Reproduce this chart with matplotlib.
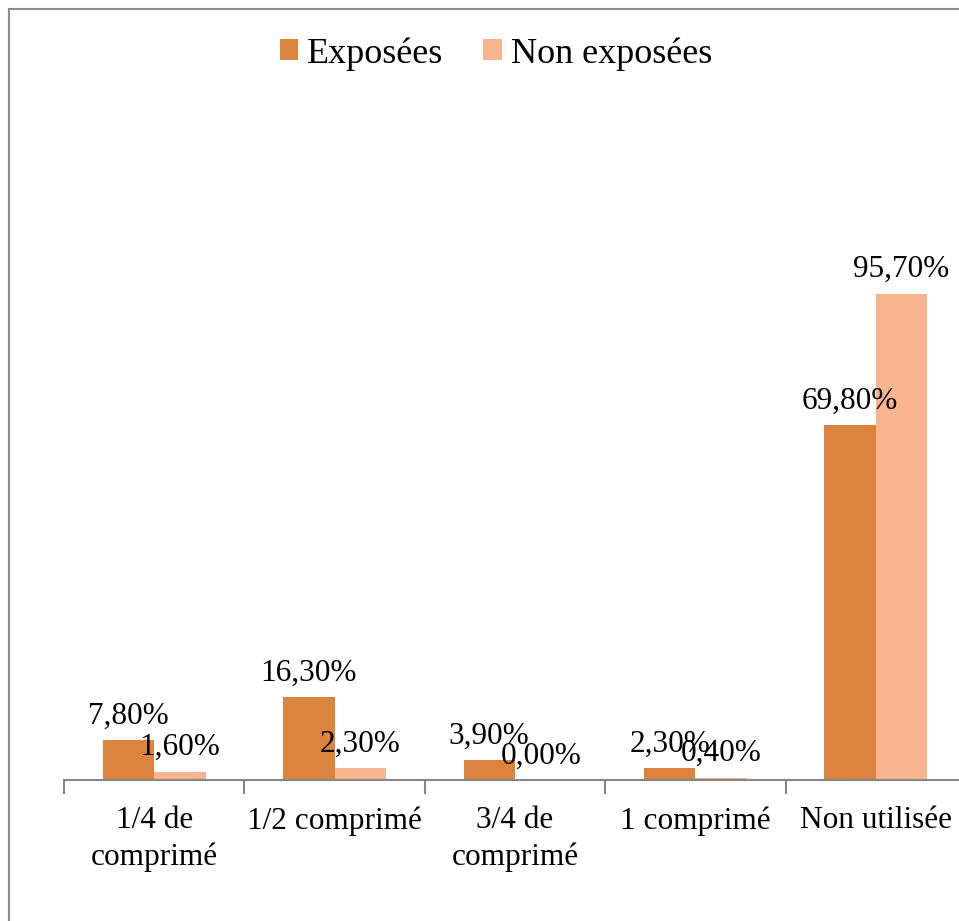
import numpy as np
import matplotlib.pyplot as plt
from matplotlib.patches import Rectangle

# Data -------------------------------------------------------------
categories = ['1/4 de\ncomprimé', '1/2 comprimé', '3/4 de\ncomprimé', '1 comprimé', 'Non utilisée']
exposees = [7.80, 16.30, 3.90, 2.30, 69.80]
non_exposees = [1.60, 2.30, 0.00, 0.40, 95.70]
series_names = ['Exposées', 'Non exposées']

col_exp = '#DB843D'
col_non = '#F7B48F'

plt.rcParams['font.family'] = ['Liberation Serif', 'DejaVu Serif']

# Figure -----------------------------------------------------------
W, H = 959, 921
fig = plt.figure(figsize=(W/100, H/100), dpi=100)
ax = fig.add_axes([64/W, 1-780/H, 902/W, (780-170)/H])

x = np.arange(len(categories))
w = 0.285
b1 = ax.bar(x - w/2, exposees, w, color=col_exp, label=series_names[0])
b2 = ax.bar(x + w/2, non_exposees, w, color=col_non, label=series_names[1])

# data labels
for xi, v in zip(x - w/2, exposees):
    ax.annotate(f'{v:.2f}%'.replace('.', ','), (xi, v), xytext=(0, 12), textcoords='offset points',
                ha='center', va='baseline', fontsize=22.5)
for xi, v in zip(x + w/2, non_exposees):
    ax.annotate(f'{v:.2f}%'.replace('.', ','), (xi, v), xytext=(0, 12), textcoords='offset points',
                ha='center', va='baseline', fontsize=22.5)

ax.set_xlim(-0.5, len(categories) - 0.5)
ax.set_ylim(0, 120)

for s in ['top', 'right', 'left']:
    ax.spines[s].set_visible(False)
ax.spines['bottom'].set_color('#868686')
ax.spines['bottom'].set_linewidth(1.5)
ax.set_yticks([])

ax.set_xticks(x)
ax.set_xticklabels(categories, fontsize=22.5, linespacing=1.3)
ax.tick_params(axis='x', which='major', length=0, pad=19)
ax.set_xticks(np.arange(len(categories) + 1) - 0.5, minor=True)
ax.tick_params(axis='x', which='minor', length=10, width=1.5, color='#868686')

leg = fig.legend(loc='center', bbox_to_anchor=(496/W, 1-54/H), ncol=2, frameon=False,
                 fontsize=26, handlelength=0.52, handleheight=0.52, handletextpad=0.25,
                 columnspacing=1.1)

# outer border
fig.patches.append(Rectangle((9/W, -0.1), 1.2, 1.1 - 9/H, transform=fig.transFigure,
                             fill=False, edgecolor='#8c8c8c', linewidth=1.5))

fig.savefig('out.png', dpi=100)
